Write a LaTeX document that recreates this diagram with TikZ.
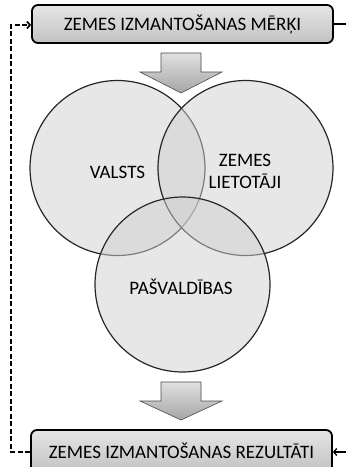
\documentclass[tikz,border=0pt]{standalone}
\usepackage{fontspec}
\setmainfont{Carlito}
\usetikzlibrary{arrows.meta}
\begin{document}
\begin{tikzpicture}[x=1pt,y=-1pt,
  txt/.style={font=\fontsize{19}{22}\selectfont},
  box/.style={txt, draw=black, line width=1.8pt, rounded corners=6pt,
    top color=black!10, bottom color=black!24, minimum width=301pt,
    minimum height=38pt, inner sep=0pt},
  ring/.style={circle, draw=black!85, line width=1.2pt, fill=black!18,
    fill opacity=0.5, text opacity=1, minimum size=175pt, inner sep=0pt},
  blockarrow/.style={draw=black!70, line width=0.6pt, top color=black!12,
    bottom color=black!35, line join=miter},
  halo/.style={draw=white, line width=3pt, line join=miter},
  feedback/.style={line width=1.7pt, dash pattern=on 5pt off 2.5pt},
  tipped/.style={-{Straight Barb[length=3pt,width=7pt]}}
]
\useasboundingbox (0,0) rectangle (346,467);
\fill[white] (0,0) rectangle (346,467);

% boxes
\node[box] (goal) at (182.5,24) {ZEMES IZMANTOŠANAS MĒRĶI};
\node[box, minimum height=42pt] (result) at (181.5,451) {ZEMES IZMANTOŠANAS REZULTĀTI};

% three overlapping circles
\node[ring] (state) at (117.5,168) {};
\node[ring] (users) at (245.5,168) {};
\node[ring] (munic) at (182.5,284.5) {};
\node[txt] (statel) at (117.5,172) {VALSTS};
\node[txt, align=center] (usersl) at (245,171) {ZEMES\\LIETOTĀJI};
\node[txt] (municl) at (181,287) {PAŠVALDĪBAS};

% block arrows
\coordinate (a1) at (181,53);
\path[halo] (a1) ++(-20,0) -- ++(40,0) -- ++(0,19) -- ++(21,0) -- (181,93) -- (140,72) -- ++(21,0) -- cycle;
\path[blockarrow] (a1) ++(-20,0) -- ++(40,0) -- ++(0,19) -- ++(21,0) -- (181,93) -- (140,72) -- ++(21,0) -- cycle;
\coordinate (a2) at (181,382);
\path[halo] (a2) ++(-20,0) -- ++(40,0) -- ++(0,19) -- ++(21,0) -- (181,420) -- (140,401) -- ++(21,0) -- cycle;
\path[blockarrow] (a2) ++(-20,0) -- ++(40,0) -- ++(0,19) -- ++(21,0) -- (181,420) -- (140,401) -- ++(21,0) -- cycle;

% feedback loop on the left
\coordinate (loopb) at (11,452);
\coordinate (loopt) at (11,25);
\draw[feedback, tipped] (result.west |- loopb) -- (loopb) -- (loopt) -- (goal.west |- loopt);

% lines on the right
\coordinate (rtop) at (346,24);
\coordinate (rbot) at (346,452);
\draw[line width=1.3pt] (goal.east) -- (rtop);
\draw[line width=1.3pt, tipped] (rbot) -- (result.east |- rbot);
\end{tikzpicture}
\end{document}
